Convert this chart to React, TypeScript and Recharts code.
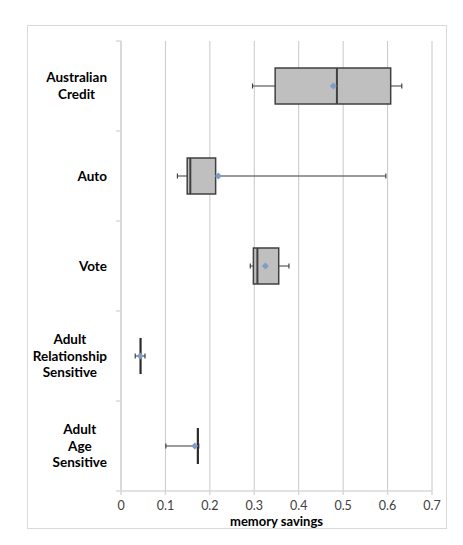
import { ComposedChart, Bar, XAxis, YAxis, CartesianGrid } from "recharts";

const categories = ["Australian Credit", "Auto", "Vote", "Adult Relationship Sensitive", "Adult Age Sensitive"];
const labelLines = [["Australian", "Credit"], ["Auto"], ["Vote"], ["Adult", "Relationship", "Sensitive"], ["Adult", "Age", "Sensitive"]];
const mins = [0.296, 0.127, 0.291, 0.032, 0.101];
const q1s = [0.347, 0.149, 0.298, 0.044, 0.173];
const medians = [0.486, 0.156, 0.307, 0.044, 0.173];
const q3s = [0.607, 0.213, 0.355, 0.044, 0.173];
const maxs = [0.632, 0.596, 0.378, 0.054, 0.175];
const means = [0.478, 0.219, 0.325, 0.043, 0.166];
const xTicks = [0, 0.1, 0.2, 0.3, 0.4, 0.5, 0.6, 0.7];

const data = categories.map((name, i) => ({
  name,
  lines: labelLines[i],
  min: mins[i],
  q1: q1s[i],
  median: medians[i],
  q3: q3s[i],
  max: maxs[i],
  mean: means[i],
}));

const FONT = "Lato, 'Open Sans', sans-serif";
const AXIS = "#d9d9d9";

let ctx: CanvasRenderingContext2D | null = null;
function textWidth(s: string, font: string) {
  if (!ctx) ctx = document.createElement("canvas").getContext("2d");
  if (!ctx) return s.length * 7;
  ctx.font = font;
  return ctx.measureText(s).width;
}

function CategoryTick(props: any) {
  const { x, y, payload, index } = props;
  const d = data.find((r) => r.name === payload.value);
  const lines = d ? d.lines : [String(payload.value)];
  const font = `bold 13.5px ${FONT}`;
  const blockW = Math.max(...lines.map((l) => textWidth(l, font)));
  const cx = x - blockW / 2;
  const lh = 16.5;
  const startY = y - ((lines.length - 1) * lh) / 2;
  const half = payload.offset;
  const ax = x + 14;
  return (
    <g>
      {typeof half === "number" && (
        <>
          {index === 0 && <line x1={ax - 5} x2={ax} y1={y - half} y2={y - half} stroke={AXIS} strokeWidth={1.5} />}
          <line x1={ax - 5} x2={ax} y1={y + half} y2={y + half} stroke={AXIS} strokeWidth={1.5} />
        </>
      )}
      <text textAnchor="middle" fontFamily={FONT} fontWeight="bold" fontSize={13.5} fill="#000">
        {lines.map((l, i) => (
          <tspan key={i} x={cx} y={startY + i * lh} dy="0.35em">
            {l}
          </tspan>
        ))}
      </text>
    </g>
  );
}

function BoxShape(props: any) {
  const { x, y, width, height, payload } = props;
  const { min, q1, median, q3, max, mean } = payload;
  const span = max - min;
  const px = (v: number) => x + ((v - min) / span) * width;
  const cy = y + height / 2;
  const m = px(mean);
  const flat = q3 - q1 < 1e-6;
  return (
    <g>
      <line x1={px(min)} x2={px(q1)} y1={cy} y2={cy} stroke="#7a7a7a" strokeWidth={1.5} />
      <line x1={px(q3)} x2={px(max)} y1={cy} y2={cy} stroke="#7a7a7a" strokeWidth={1.5} />
      <line x1={px(min)} x2={px(min)} y1={cy - 2.5} y2={cy + 2.5} stroke="#404040" strokeWidth={1.2} />
      <line x1={px(max)} x2={px(max)} y1={cy - 2.5} y2={cy + 2.5} stroke="#404040" strokeWidth={1.2} />
      {!flat && (
        <rect x={px(q1)} y={y} width={px(q3) - px(q1)} height={height} fill="#bfbfbf" stroke="#404040" strokeWidth={1.5} />
      )}
      <line x1={px(median)} x2={px(median)} y1={y} y2={y + height} stroke={flat ? "#2b2b2b" : "#404040"} strokeWidth={flat ? 2.2 : 2} />
      <path d={`M${m},${cy - 3.5} L${m + 3.5},${cy} L${m},${cy + 3.5} L${m - 3.5},${cy} Z`} fill="#7f9cc6" />
    </g>
  );
}

export default function App() {
  return (
    <div style={{ position: "absolute", left: 0, top: 0, width: 463, height: 545, background: "#fff" }}>
      <div
        style={{
          position: "absolute",
          left: 27,
          top: 25,
          width: 420,
          height: 504,
          border: `1px solid ${AXIS}`,
          boxSizing: "border-box",
        }}
      />
      <ComposedChart
        width={463}
        height={545}
        data={data}
        layout="vertical"
        margin={{ top: 41, right: 31, left: 0, bottom: 24 }}
        style={{ position: "absolute", left: 0, top: 0 }}
      >
        <CartesianGrid horizontal={false} stroke="#c8c8c8" />
        <XAxis
          type="number"
          domain={[0, 0.7]}
          ticks={xTicks}
          height={30}
          stroke={AXIS}
          strokeWidth={1.5}
          tickSize={4}
          tickMargin={6}
          tick={{ fill: "#404040", fontSize: 12.5, fontFamily: FONT }}
          label={{
            value: "memory savings",
            position: "insideBottom",
            offset: -5,
            fill: "#000",
            fontSize: 13,
            fontWeight: "bold",
            fontFamily: FONT,
          }}
        />
        <YAxis
          type="category"
          dataKey="name"
          width={121}
          stroke={AXIS}
          strokeWidth={2}
          tickLine={false}
          tickSize={0}
          tickMargin={14}
          tick={<CategoryTick />}
          interval={0}
        />
        <Bar dataKey={(d: any) => [d.min, d.max]} barSize={36} shape={<BoxShape />} isAnimationActive={false} />
      </ComposedChart>
    </div>
  );
}
